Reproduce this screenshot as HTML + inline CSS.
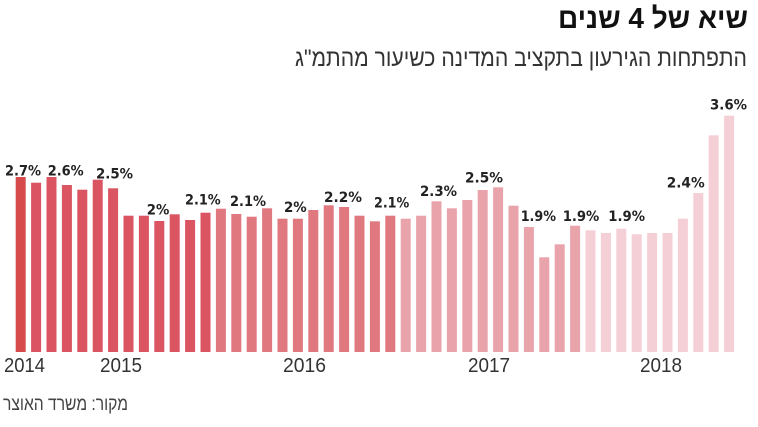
<!DOCTYPE html>
<html><head><meta charset="utf-8"><style>
html,body{margin:0;padding:0;background:#fff;}
svg{display:block;}
</style></head><body>
<svg width="758" height="427" viewBox="0 0 758 427" xmlns="http://www.w3.org/2000/svg">
<rect width="758" height="427" fill="#fff"/>
<text x="558" y="28" font-family="Liberation Sans, DejaVu Sans, sans-serif" font-weight="bold" font-size="29" fill="#111" textLength="190" lengthAdjust="spacingAndGlyphs">שיא של 4 שנים</text>
<text x="295" y="66" font-family="Liberation Sans, DejaVu Sans, sans-serif" font-size="24.5" fill="#333" textLength="452" lengthAdjust="spacingAndGlyphs">התפתחות הגירעון בתקציב המדינה כשיעור מהתמ"ג</text>
<g font-family="DejaVu Sans, Liberation Sans, sans-serif" font-weight="bold" font-size="14.2" fill="#222">
<text x="5" y="175.5" textLength="36" lengthAdjust="spacingAndGlyphs">2.7%</text>
<text x="47.7" y="175.5" textLength="36" lengthAdjust="spacingAndGlyphs">2.6%</text>
<text x="96" y="178.5" textLength="37" lengthAdjust="spacingAndGlyphs">2.5%</text>
<text x="146.7" y="214.5" textLength="22.6" lengthAdjust="spacingAndGlyphs">2%</text>
<text x="185" y="204.5" textLength="35.7" lengthAdjust="spacingAndGlyphs">2.1%</text>
<text x="230" y="206" textLength="36" lengthAdjust="spacingAndGlyphs">2.1%</text>
<text x="284" y="212" textLength="22.7" lengthAdjust="spacingAndGlyphs">2%</text>
<text x="324" y="202" textLength="38" lengthAdjust="spacingAndGlyphs">2.2%</text>
<text x="374" y="207.5" textLength="35.3" lengthAdjust="spacingAndGlyphs">2.1%</text>
<text x="420" y="196" textLength="37" lengthAdjust="spacingAndGlyphs">2.3%</text>
<text x="465" y="182.5" textLength="38" lengthAdjust="spacingAndGlyphs">2.5%</text>
<text x="520.7" y="221" textLength="35.3" lengthAdjust="spacingAndGlyphs">1.9%</text>
<text x="562.7" y="221" textLength="36.6" lengthAdjust="spacingAndGlyphs">1.9%</text>
<text x="608.3" y="221" textLength="36.7" lengthAdjust="spacingAndGlyphs">1.9%</text>
<text x="666.7" y="187.5" textLength="38" lengthAdjust="spacingAndGlyphs">2.4%</text>
<text x="710" y="109.5" textLength="37" lengthAdjust="spacingAndGlyphs">3.6%</text>
</g>
<g font-family="Liberation Sans, DejaVu Sans, sans-serif" font-size="20" fill="#333">
<text x="4" y="372" textLength="41" lengthAdjust="spacingAndGlyphs">2014</text>
<text x="100" y="372" textLength="42" lengthAdjust="spacingAndGlyphs">2015</text>
<text x="283" y="372" textLength="43" lengthAdjust="spacingAndGlyphs">2016</text>
<text x="468" y="372" textLength="42" lengthAdjust="spacingAndGlyphs">2017</text>
<text x="640" y="372" textLength="42" lengthAdjust="spacingAndGlyphs">2018</text>
</g>
<text x="3" y="410" font-family="Liberation Sans, DejaVu Sans, sans-serif" font-size="19" fill="#444" textLength="125" lengthAdjust="spacingAndGlyphs">מקור: משרד האוצר</text>
<g>
<rect x="15.7" y="177" width="10" height="175" fill="#d64a4c"/>
<rect x="31.1" y="182.7" width="10" height="169.3" fill="#da5462"/>
<rect x="46.5" y="177" width="10" height="175" fill="#da5462"/>
<rect x="61.9" y="185" width="10" height="167" fill="#da5462"/>
<rect x="77.3" y="189.7" width="10" height="162.3" fill="#da5462"/>
<rect x="92.7" y="179.7" width="10" height="172.3" fill="#da5462"/>
<rect x="108.1" y="188.3" width="10" height="163.7" fill="#da5462"/>
<rect x="123.5" y="215.7" width="10" height="136.3" fill="#da5462"/>
<rect x="138.9" y="215.7" width="10" height="136.3" fill="#da5462"/>
<rect x="154.3" y="221" width="10" height="131" fill="#da5462"/>
<rect x="169.7" y="214.3" width="10" height="137.7" fill="#da5462"/>
<rect x="185.1" y="220" width="10" height="132" fill="#da5462"/>
<rect x="200.5" y="212.7" width="10" height="139.3" fill="#da5462"/>
<rect x="215.9" y="208.7" width="10" height="143.3" fill="#e07880"/>
<rect x="231.3" y="214" width="10" height="138" fill="#e07880"/>
<rect x="246.7" y="216.7" width="10" height="135.3" fill="#e07880"/>
<rect x="262.1" y="208.3" width="10" height="143.7" fill="#e07880"/>
<rect x="277.5" y="218.7" width="10" height="133.3" fill="#e07880"/>
<rect x="292.9" y="218.7" width="10" height="133.3" fill="#e07880"/>
<rect x="308.3" y="210" width="10" height="142" fill="#e07880"/>
<rect x="323.7" y="205.3" width="10" height="146.7" fill="#e07880"/>
<rect x="339.1" y="207" width="10" height="145" fill="#e07880"/>
<rect x="354.5" y="215.7" width="10" height="136.3" fill="#e07880"/>
<rect x="369.9" y="221.3" width="10" height="130.7" fill="#e07880"/>
<rect x="385.3" y="215.7" width="10" height="136.3" fill="#e07880"/>
<rect x="400.7" y="218.7" width="10" height="133.3" fill="#e9a3ab"/>
<rect x="416.1" y="215.7" width="10" height="136.3" fill="#e9a3ab"/>
<rect x="431.5" y="201.3" width="10" height="150.7" fill="#e9a3ab"/>
<rect x="446.9" y="208.3" width="10" height="143.7" fill="#e9a3ab"/>
<rect x="462.3" y="200" width="10" height="152" fill="#e9a3ab"/>
<rect x="477.7" y="190" width="10" height="162" fill="#e9a3ab"/>
<rect x="493.1" y="187.3" width="10" height="164.7" fill="#e9a3ab"/>
<rect x="508.5" y="205.7" width="10" height="146.3" fill="#e9a3ab"/>
<rect x="523.9" y="227" width="10" height="125" fill="#e9a3ab"/>
<rect x="539.3" y="257.3" width="10" height="94.7" fill="#e9a3ab"/>
<rect x="554.7" y="244.3" width="10" height="107.7" fill="#e9a3ab"/>
<rect x="570.1" y="225.7" width="10" height="126.3" fill="#e9a3ab"/>
<rect x="585.5" y="230.3" width="10" height="121.7" fill="#f4d0d6"/>
<rect x="600.9" y="233" width="10" height="119" fill="#f4d0d6"/>
<rect x="616.3" y="228.7" width="10" height="123.3" fill="#f4d0d6"/>
<rect x="631.7" y="234.3" width="10" height="117.7" fill="#f4d0d6"/>
<rect x="647.1" y="233" width="10" height="119" fill="#f4d0d6"/>
<rect x="662.5" y="233" width="10" height="119" fill="#f4d0d6"/>
<rect x="677.9" y="218.7" width="10" height="133.3" fill="#f4d0d6"/>
<rect x="693.3" y="193" width="10" height="159" fill="#f4d0d6"/>
<rect x="708.7" y="135.3" width="10" height="216.7" fill="#f4d0d6"/>
<rect x="724.1" y="115.7" width="10" height="236.3" fill="#f4d0d6"/>
</g>
</svg>
</body></html>
